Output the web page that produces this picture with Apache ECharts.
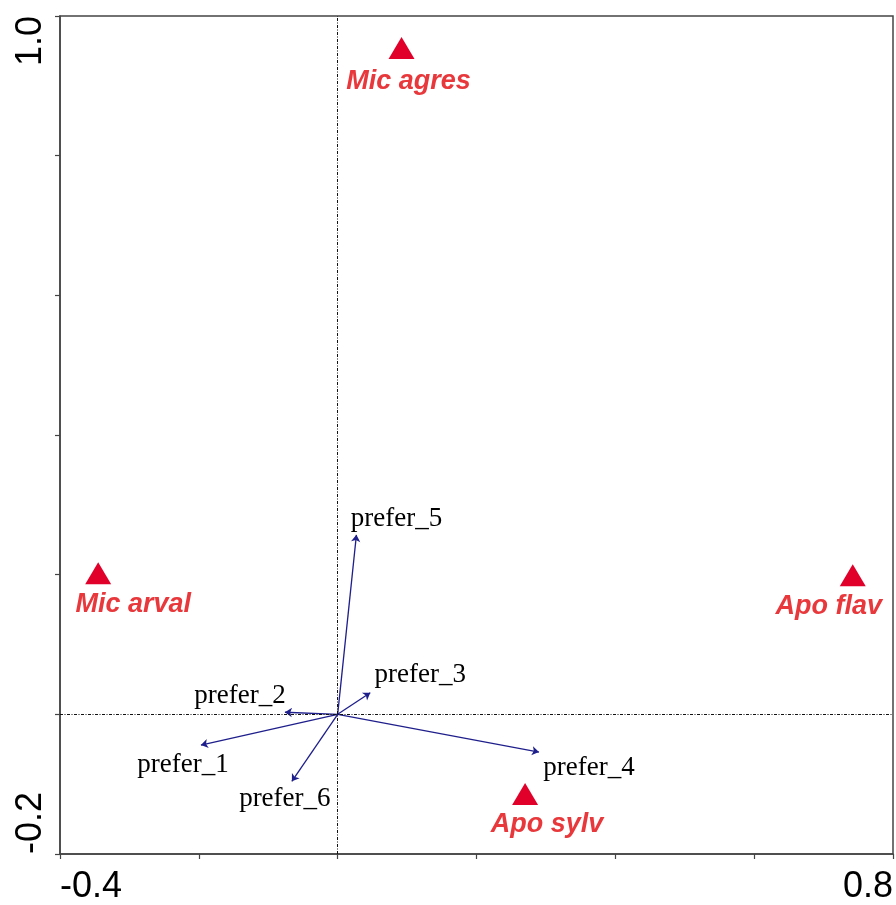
<!DOCTYPE html>
<html><head><meta charset="utf-8">
<script src="https://cdn.jsdelivr.net/npm/echarts@6/dist/echarts.min.js"></script>
<style>html,body{margin:0;padding:0;background:#fff}#c{width:896px;height:905px}</style>
</head><body><div id="c"></div>
<script>
// ---- data ----
const speciesNames = ['Mic agres', 'Mic arval', 'Apo flav', 'Apo sylv'];
const speciesX = [0.092, -0.345, 0.742, 0.270];
const speciesY = [0.954, 0.202, 0.199, -0.114];

const envNames = ['prefer_1', 'prefer_2', 'prefer_3', 'prefer_4', 'prefer_5', 'prefer_6'];
const envX = [-0.197, -0.076, 0.047, 0.290, 0.027, -0.066];
const envY = [-0.044, 0.003, 0.031, -0.054, 0.257, -0.096];

const xTickLabels = ['-0.4', '0.8'];
const yTickLabels = ['-0.2', '1.0'];

// ---- label layout (pixel offsets from the mark) ----
const speciesLabelOffset = {
  'Mic agres': [7, 33], 'Mic arval': [35, 31], 'Apo flav': [-24, 31], 'Apo sylv': [22, 31]
};
const envLabelOffset = {
  'prefer_1': [-18, 20], 'prefer_2': [-45, -16], 'prefer_3': [50, -18],
  'prefer_4': [50, 16], 'prefer_5': [40, -16], 'prefer_6': [-7, 18]
};

const axisColor = '#444';
const chart = echarts.init(document.getElementById('c'), null, {renderer: 'canvas'});
chart.setOption({
  animation: false,
  backgroundColor: '#fff',
  grid: {left: 60, top: 16, right: 1, bottom: 48, show: true, borderColor: axisColor, borderWidth: 1.5, containLabel: false},
  xAxis: {
    type: 'value', min: -0.4, max: 0.8, interval: 0.2,
    axisLine: {show: true, onZero: false, lineStyle: {color: axisColor, width: 1.5}},
    axisTick: {show: true, inside: false, length: 5, lineStyle: {color: axisColor, width: 1.2}},
    splitLine: {show: false},
    axisLabel: {
      show: true, interval: 0, margin: 15, fontSize: 36, color: '#000',
      fontFamily: '"Liberation Sans", Arial, sans-serif',
      alignMinLabel: 'left', alignMaxLabel: 'right',
      formatter: v => { const s = v.toFixed(1); return xTickLabels.includes(s) ? s : ''; }
    }
  },
  yAxis: {
    type: 'value', min: -0.2, max: 1.0, interval: 0.2,
    axisLine: {show: true, onZero: false, lineStyle: {color: axisColor, width: 1.5}},
    axisTick: {show: true, inside: false, length: 5, lineStyle: {color: axisColor, width: 1.2}},
    splitLine: {show: false},
    axisLabel: {
      show: true, interval: 0, margin: 11, fontSize: 36, color: '#000', rotate: 90,
      fontFamily: '"Liberation Sans", Arial, sans-serif',
      alignMinLabel: 'left', alignMaxLabel: 'right',
      formatter: v => { const s = v.toFixed(1); return yTickLabels.includes(s) ? s : ''; }
    }
  },
  series: [
    {
      type: 'scatter', data: [], z: 1, silent: true,
      markLine: {
        silent: true, symbol: ['none', 'none'], animation: false,
        label: {show: false},
        lineStyle: {color: '#111', width: 1, type: [3, 1.5, 1, 1.5], opacity: 1},
        data: [{xAxis: 0}, {yAxis: 0}]
      }
    },
    {
      type: 'lines', coordinateSystem: 'cartesian2d', z: 3, silent: true,
      symbol: ['none', 'arrow'], symbolSize: [1, 7],
      lineStyle: {color: '#1E1E8C', width: 1.3, opacity: 1, curveness: 0},
      data: envNames.map((n, i) => ({name: n, coords: [[0, 0], [envX[i], envY[i]]]}))
    },
    {
      type: 'scatter', z: 4, silent: true, symbol: 'circle', symbolSize: 2,
      itemStyle: {color: 'rgba(0,0,0,0)', opacity: 1},
      data: envNames.map((n, i) => ({
        name: n, value: [envX[i], envY[i]],
        label: {offset: envLabelOffset[n]}
      })),
      label: {
        show: true, position: 'inside', formatter: '{b}', color: '#000',
        fontFamily: '"Liberation Serif", "Times New Roman", serif', fontSize: 27,
        align: 'center', verticalAlign: 'middle'
      }
    },
    {
      type: 'scatter', z: 5, silent: true, symbol: 'triangle', symbolSize: [26, 22],
      itemStyle: {color: '#E0002A', opacity: 1},
      data: speciesNames.map((n, i) => ({
        name: n, value: [speciesX[i], speciesY[i]],
        label: {offset: speciesLabelOffset[n]}
      })),
      label: {
        show: true, position: 'inside', formatter: '{b}', color: '#E8383C',
        fontFamily: '"Liberation Sans", Arial, sans-serif', fontSize: 27,
        fontWeight: 'bold', fontStyle: 'italic',
        align: 'center', verticalAlign: 'middle'
      }
    }
  ]
});
</script>
</body></html>
